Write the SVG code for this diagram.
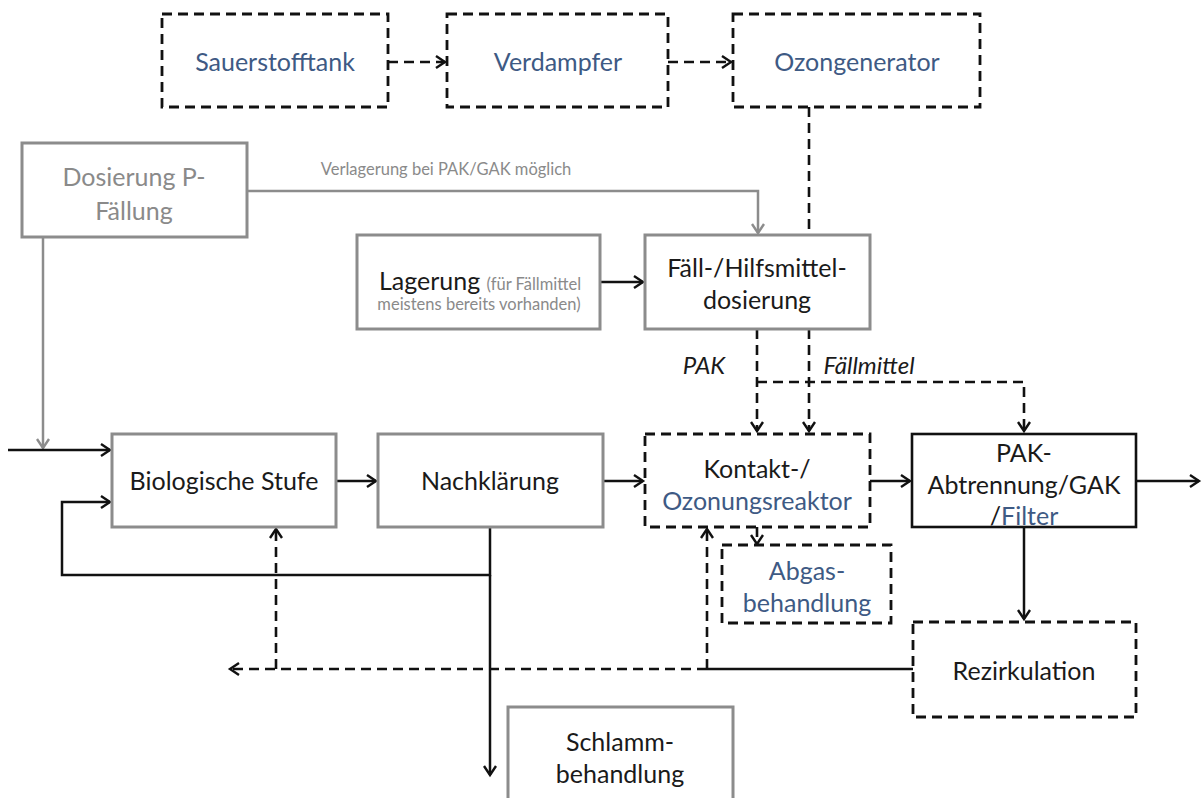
<svg xmlns="http://www.w3.org/2000/svg" width="1202" height="798" viewBox="0 0 1202 798">
  <style>
    text { font-family: Lato, "Open Sans", "Liberation Sans", sans-serif; font-size: 25px; text-anchor: middle; fill: #1a1a1a; }
    .blue { fill: #3e5a84; }
    .grayt { fill: #8a8a8a; }
    .small { font-size: 16.5px; }
    .note { font-size: 16.5px; fill: #8a8a8a; }
    .ital { font-style: italic; font-size: 24px; }
    .box-gray { fill: #ffffff; stroke: #8c8c8c; stroke-width: 3; }
    .box-solid { fill: #ffffff; stroke: #111111; stroke-width: 2.6; }
    .box-dash { fill: #ffffff; stroke: #111111; stroke-width: 2.8; stroke-dasharray: 10 6; }
    .line { fill: none; stroke: #111111; stroke-width: 2.5; }
    .dash { fill: none; stroke: #111111; stroke-width: 2.6; stroke-dasharray: 10 6; }
    .gline { fill: none; stroke: #8c8c8c; stroke-width: 2.5; }
  </style>
  <defs>
    <marker id="arr" markerUnits="userSpaceOnUse" markerWidth="16" markerHeight="16" viewBox="-12 -8 14 16" refX="0" refY="0" orient="auto">
      <path d="M-9,-6 L0,0 L-9,6" fill="none" stroke="#111111" stroke-width="2.4"/>
    </marker>
    <marker id="garr" markerUnits="userSpaceOnUse" markerWidth="16" markerHeight="16" viewBox="-12 -8 14 16" refX="0" refY="0" orient="auto">
      <path d="M-9,-6 L0,0 L-9,6" fill="none" stroke="#8c8c8c" stroke-width="2.4"/>
    </marker>
  </defs>
  <rect width="1202" height="798" fill="#ffffff"/>

  <!-- connectors -->
  <g id="connectors">
    <!-- oxygen supply chain -->
    <path class="dash" d="M388,62 H445" marker-end="url(#arr)"/>
    <path class="dash" d="M668,62 H731" marker-end="url(#arr)"/>
    <path class="dash" d="M809,107 V235"/>
    <!-- P-precipitation dosing -->
    <path class="gline" d="M247,191 H758 V233" marker-end="url(#garr)"/>
    <path class="gline" d="M43,237 V448" marker-end="url(#garr)"/>
    <!-- storage to dosing -->
    <path class="line" d="M600,282 H643" marker-end="url(#arr)"/>
    <!-- dosing to reactor / filter -->
    <path class="dash" d="M757,329 V431" marker-end="url(#arr)"/>
    <path class="dash" d="M809,329 V431" marker-end="url(#arr)"/>
    <path class="dash" d="M757,382 H1024 V431" marker-end="url(#arr)"/>
    <!-- main line -->
    <path class="line" d="M8,450 H110" marker-end="url(#arr)"/>
    <path class="line" d="M336,481 H376" marker-end="url(#arr)"/>
    <path class="line" d="M603,481 H643" marker-end="url(#arr)"/>
    <path class="line" d="M870,481 H910" marker-end="url(#arr)"/>
    <path class="line" d="M1136,481 H1199" marker-end="url(#arr)"/>
    <!-- return sludge loop and excess sludge -->
    <path class="line" d="M490,527 V575 H62 V502 H110" marker-end="url(#arr)"/>
    <path class="line" d="M490,575 V775" marker-end="url(#arr)"/>
    <!-- off-gas -->
    <path class="dash" d="M757,527 V544" marker-end="url(#arr)"/>
    <!-- filter to recirculation -->
    <path class="line" d="M1024,527 V619" marker-end="url(#arr)"/>
    <!-- recirculation -->
    <path class="line" d="M913,669 H707"/>
    <path class="dash" d="M707,669 V529" marker-end="url(#arr)"/>
    <path class="dash" d="M707,669 H230" marker-end="url(#arr)"/>
    <path class="dash" d="M276,669 V529" marker-end="url(#arr)"/>
  </g>

  <g id="sauerstofftank">
    <rect class="box-dash" x="162" y="14" width="226" height="93"/>
    <text class="blue" x="275" y="71">Sauerstofftank</text>
  </g>
  <g id="verdampfer">
    <rect class="box-dash" x="447" y="14" width="221" height="93"/>
    <text class="blue" x="558" y="71">Verdampfer</text>
  </g>
  <g id="ozongenerator">
    <rect class="box-dash" x="733" y="14" width="247" height="93"/>
    <text class="blue" x="857" y="71">Ozongenerator</text>
  </g>

  <g id="dosierung-p">
    <rect class="box-gray" x="22" y="143" width="225" height="94"/>
    <text class="grayt" x="134" y="186">Dosierung P-</text>
    <text class="grayt" x="134" y="220">Fällung</text>
  </g>
  <text class="note" x="446" y="175">Verlagerung bei PAK/GAK möglich</text>

  <g id="lagerung">
    <rect class="box-gray" x="357" y="235" width="243" height="94"/>
    <text x="480" y="290">Lagerung <tspan class="grayt small">(für Fällmittel</tspan></text>
    <text class="grayt small" x="479" y="310">meistens bereits vorhanden)</text>
  </g>

  <g id="dosierung-hilfsmittel">
    <rect class="box-gray" x="645" y="235" width="225" height="94"/>
    <text x="757" y="277">Fäll-/Hilfsmittel-</text>
    <text x="757" y="309">dosierung</text>
  </g>

  <text class="ital" x="704" y="374">PAK</text>
  <text class="ital" x="869" y="374">Fällmittel</text>

  <g id="biologische-stufe">
    <rect class="box-gray" x="112" y="434" width="224" height="93"/>
    <text x="224" y="490">Biologische Stufe</text>
  </g>
  <g id="nachklaerung">
    <rect class="box-gray" x="378" y="434" width="225" height="93"/>
    <text x="490" y="490">Nachklärung</text>
  </g>
  <g id="kontaktreaktor">
    <rect class="box-dash" x="645" y="434" width="225" height="93"/>
    <text x="757" y="478">Kontakt-/</text>
    <text class="blue" x="757" y="510">Ozonungsreaktor</text>
  </g>
  <g id="pak-abtrennung">
    <rect class="box-solid" x="912" y="434" width="224" height="93"/>
    <text x="1024" y="462">PAK-</text>
    <text x="1024" y="494">Abtrennung/GAK</text>
    <text x="1024" y="525">/<tspan class="blue">Filter</tspan></text>
  </g>
  <g id="abgasbehandlung">
    <rect class="box-dash" x="722" y="545" width="169" height="78"/>
    <text class="blue" x="807" y="580">Abgas-</text>
    <text class="blue" x="807" y="612">behandlung</text>
  </g>
  <g id="rezirkulation">
    <rect class="box-dash" x="913" y="622" width="223" height="95"/>
    <text x="1024" y="680">Rezirkulation</text>
  </g>
  <g id="schlammbehandlung">
    <rect class="box-gray" x="508" y="707" width="225" height="100"/>
    <text x="620" y="751">Schlamm-</text>
    <text x="620" y="783">behandlung</text>
  </g>
</svg>
